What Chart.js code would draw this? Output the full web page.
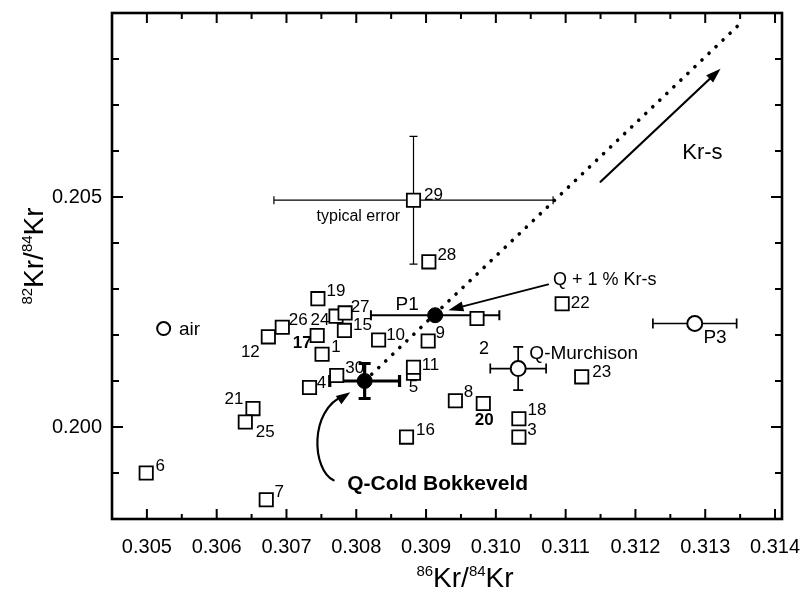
<!DOCTYPE html>
<html>
<head>
<meta charset="utf-8">
<script src="https://cdn.jsdelivr.net/npm/chart.js@4.4.0/dist/chart.umd.min.js"></script>
<style>
  html, body { margin: 0; padding: 0; background: #fff; }
  canvas { display: block; }
</style>
</head>
<body>
<canvas id="kr" width="804" height="595"></canvas>
<script>
// ---- Kr isotope data: 86Kr/84Kr (x) vs 82Kr/84Kr (y) ----
const sampleIds = ['1','3','4','5','6','7','8','9','10','11','12','15','16','17','18','19','20','21','22','23','24','25','26','27','28','29','30',''];
const sampleX = [0.30751,0.31033,0.30733,0.30882,0.30499,0.30671,0.30942,0.30903,0.30832,0.30882,0.30674,0.30783,0.30872,0.30744,0.31033,0.30745,0.30982,0.30652,0.31095,0.31123,0.30771,0.30641,0.30694,0.30784,0.30904,0.30882,0.30772,0.30973];
const sampleY = [0.20158,0.19978,0.20086,0.20117,0.19900,0.19842,0.20057,0.20187,0.20189,0.20130,0.20196,0.20210,0.19978,0.20199,0.20018,0.20279,0.20051,0.20040,0.20268,0.20109,0.20241,0.20011,0.20217,0.20248,0.20359,0.20493,0.20112,0.20236];
// typical uncertainty, shown on sample 29
const typicalSample = '29';
const typicalErrX = 0.0020;
const typicalErrY = 0.00139;

// open circles: air and reference gases
const refNames = ['air','Q-Murchison','P3'];
const refX = [0.30524,0.31032,0.31285];
const refY = [0.20214,0.20127,0.20225];
const refErrX = [0,0.0004,0.0006];
const refErrY = [0,0.00047,0];

// filled circles: Q-Cold Bokkeveld and P1
const qNames = ['Q-Cold Bokkeveld','P1'];
const qX = [0.30812,0.30913];
const qY = [0.20100,0.20243];
const qErrX = [0.0005,0.00092];
const qErrY = [0.00038,0];

// Kr-s mixing line from Q-Cold Bokkeveld
const mixLineX = [0.30812,0.31355];
const mixLineY = [0.20100,0.20884];

// axis ticks
const xTickValues = [0.305,0.306,0.307,0.308,0.309,0.310,0.311,0.312,0.313,0.314];
const xMinorValues = [0.3055,0.3065,0.3075,0.3085,0.3095,0.3105,0.3115,0.3125,0.3135];
const yTickValues = [0.200,0.205];
const yMinorValues = [0.199,0.201,0.202,0.203,0.204,0.206,0.207,0.208];

// text notes (data coordinates)
const noteTexts = ['typical error','Kr-s','Q + 1 % Kr-s','P1','Q-Murchison','P3','air','2','Q-Cold Bokkeveld'];
const noteX = [0.30803,0.31296,0.31082,0.30873,0.31048,0.31314,0.30561,0.30983,0.30787];
const noteY = [0.204565,0.20595,0.20319,0.20265,0.20160,0.20195,0.20212,0.20169,0.198754];

// arrows: straight [x0,y0,x1,y1]
const arrowKrs = [0.31150,0.20533,0.31322,0.20779];
const arrowQ1 = [0.31075,0.20310,0.30932,0.20254];
// curved arrow pointing at Q-Cold Bokkeveld: start, control 1, control 2, end
const curveX = [0.307675,0.30737,0.307312,0.307914];
const curveY = [0.198841,0.199059,0.200363,0.200754];

// ---- presentation ----
const FONT = '"Liberation Sans", Arial, Helvetica, sans-serif';
const noteStyle = [
  {size:16, align:'center'}, {size:22, align:'center'}, {size:18, align:'left'},
  {size:19, align:'center'}, {size:19, align:'left'}, {size:19, align:'center'},
  {size:19, align:'center'}, {size:18, align:'center'}, {size:21, align:'left', bold:true}
];
// label offsets (px) from each sample marker
const labelOffset = {
  '1':[14,-7],'3':[13,-7],'4':[12,-4],'5':[0,14],'6':[14,-7],'7':[13,-7],'8':[13,-8],'9':[12,-8],
  '10':[17,-5],'11':[17,-2],'12':[-18,15],'15':[18,-5],'16':[19,-7],'17':[-15,8],'18':[18,-8],
  '19':[18,-7],'20':[1,17],'21':[-19,-9],'22':[18,0],'23':[20,-5],'24':[-16,4],'25':[20,10],
  '26':[16,-7],'27':[15,-6],'28':[18,-7],'29':[20,-5],'30':[18,-7]
};
const boldLabels = ['17','20'];

function pts(xs, ys) { return xs.map((x, i) => ({x: x, y: ys[i]})); }

function arrowHead(ctx, x0, y0, x1, y1, len, half) {
  const a = Math.atan2(y1 - y0, x1 - x0);
  ctx.beginPath();
  ctx.moveTo(x1, y1);
  ctx.lineTo(x1 - len * Math.cos(a) + half * Math.sin(a), y1 - len * Math.sin(a) - half * Math.cos(a));
  ctx.lineTo(x1 - len * Math.cos(a) - half * Math.sin(a), y1 - len * Math.sin(a) + half * Math.cos(a));
  ctx.closePath();
  ctx.fill();
}

function errorBar(ctx, sx, sy, x, y, ex, ey, lw, cap) {
  ctx.lineWidth = lw;
  ctx.beginPath();
  if (ex > 0) {
    const a = sx.getPixelForValue(x - ex), b = sx.getPixelForValue(x + ex), p = sy.getPixelForValue(y);
    ctx.moveTo(a, p); ctx.lineTo(b, p);
    ctx.moveTo(a, p - cap); ctx.lineTo(a, p + cap);
    ctx.moveTo(b, p - cap); ctx.lineTo(b, p + cap);
  }
  if (ey > 0) {
    const a = sy.getPixelForValue(y - ey), b = sy.getPixelForValue(y + ey), p = sx.getPixelForValue(x);
    ctx.moveTo(p, a); ctx.lineTo(p, b);
    ctx.moveTo(p - cap, a); ctx.lineTo(p + cap, a);
    ctx.moveTo(p - cap, b); ctx.lineTo(p + cap, b);
  }
  ctx.stroke();
}

// superscript-aware label: parts = [[text, isSup], ...]
function richText(ctx, parts, cx, baseY, big, small, rise) {
  let w = 0;
  parts.forEach(p => { ctx.font = (p[1] ? small : big) + 'px ' + FONT; w += ctx.measureText(p[0]).width; });
  let x = cx - w / 2;
  ctx.textAlign = 'left';
  ctx.textBaseline = 'alphabetic';
  parts.forEach(p => {
    ctx.font = (p[1] ? small : big) + 'px ' + FONT;
    ctx.fillText(p[0], x, p[1] ? baseY - rise : baseY);
    x += ctx.measureText(p[0]).width;
  });
}

const decorations = {
  id: 'decorations',
  beforeDatasetsDraw(chart) {
    const {ctx, scales: {x: sx, y: sy}, chartArea: ca} = chart;
    ctx.save();
    ctx.beginPath();
    ctx.rect(ca.left, ca.top, ca.right - ca.left, ca.bottom - ca.top);
    ctx.clip();
    ctx.strokeStyle = '#000';
    ctx.fillStyle = '#000';
    // error bars
    const ti = sampleIds.indexOf(typicalSample);
    errorBar(ctx, sx, sy, sampleX[ti], sampleY[ti], typicalErrX, typicalErrY, 1.2, 4);
    refNames.forEach((n, i) => errorBar(ctx, sx, sy, refX[i], refY[i], refErrX[i], refErrY[i], 1.7, 5));
    errorBar(ctx, sx, sy, qX[0], qY[0], qErrX[0], qErrY[0], 3.2, 6);
    errorBar(ctx, sx, sy, qX[1], qY[1], qErrX[1], qErrY[1], 2, 5);

    // arrows
    ctx.lineCap = 'round';
    [arrowKrs, arrowQ1].forEach((a, k) => {
      const x0 = sx.getPixelForValue(a[0]), y0 = sy.getPixelForValue(a[1]);
      const x1 = sx.getPixelForValue(a[2]), y1 = sy.getPixelForValue(a[3]);
      ctx.lineWidth = k === 0 ? 2.2 : 1.8;
      const ang = Math.atan2(y1 - y0, x1 - x0);
      ctx.beginPath();
      ctx.moveTo(x0, y0);
      ctx.lineTo(x1 - 10 * Math.cos(ang), y1 - 10 * Math.sin(ang));
      ctx.stroke();
      arrowHead(ctx, x0, y0, x1, y1, 15, 5);
    });
    const cx = curveX.map(v => sx.getPixelForValue(v));
    const cy = curveY.map(v => sy.getPixelForValue(v));
    ctx.lineWidth = 2.2;
    ctx.beginPath();
    ctx.moveTo(cx[0], cy[0]);
    ctx.bezierCurveTo(cx[1], cy[1], cx[2], cy[2], cx[3] - 6, cy[3] + 3);
    ctx.stroke();
    arrowHead(ctx, cx[2], cy[2] + 10, cx[3], cy[3], 14, 5);
    ctx.restore();
  },
  afterDatasetsDraw(chart) {
    const {ctx, scales: {x: sx, y: sy}} = chart;
    ctx.save();
    ctx.fillStyle = '#000';
    ctx.textBaseline = 'middle';
    ctx.textAlign = 'center';
    // sample numbers
    sampleIds.forEach((id, i) => {
      if (!id) return;
      const off = labelOffset[id] || [16, -6];
      ctx.font = (boldLabels.includes(id) ? 'bold ' : '') + '17px ' + FONT;
      ctx.fillText(id, sx.getPixelForValue(sampleX[i]) + off[0], sy.getPixelForValue(sampleY[i]) + off[1]);
    });
    // notes
    noteTexts.forEach((t, i) => {
      const st = noteStyle[i];
      ctx.font = (st.bold ? 'bold ' : '') + st.size + 'px ' + FONT;
      ctx.textAlign = st.align;
      ctx.fillText(t, sx.getPixelForValue(noteX[i]), sy.getPixelForValue(noteY[i]));
    });
    ctx.restore();
  },
  afterDraw(chart) {
    const {ctx, scales: {x: sx, y: sy}, chartArea: ca} = chart;
    ctx.save();
    ctx.strokeStyle = '#000';
    ctx.fillStyle = '#000';
    // inward tick marks on all four sides
    ctx.lineWidth = 2;
    ctx.beginPath();
    xTickValues.forEach(v => {
      const p = sx.getPixelForValue(v);
      ctx.moveTo(p, ca.bottom); ctx.lineTo(p, ca.bottom - 10);
      ctx.moveTo(p, ca.top); ctx.lineTo(p, ca.top + 10);
    });
    xMinorValues.forEach(v => {
      const p = sx.getPixelForValue(v);
      ctx.moveTo(p, ca.bottom); ctx.lineTo(p, ca.bottom - 5);
      ctx.moveTo(p, ca.top); ctx.lineTo(p, ca.top + 6);
    });
    yTickValues.forEach(v => {
      const p = sy.getPixelForValue(v);
      ctx.moveTo(ca.left, p); ctx.lineTo(ca.left + 11, p);
      ctx.moveTo(ca.right, p); ctx.lineTo(ca.right - 11, p);
    });
    yMinorValues.forEach(v => {
      const p = sy.getPixelForValue(v);
      ctx.moveTo(ca.left, p); ctx.lineTo(ca.left + 7, p);
      ctx.moveTo(ca.right, p); ctx.lineTo(ca.right - 7, p);
    });
    ctx.stroke();
    // frame
    ctx.lineWidth = 2.6;
    ctx.strokeRect(ca.left, ca.top, ca.right - ca.left, ca.bottom - ca.top);

    // axis titles
    const xc = (ca.left + ca.right) / 2 + 18;
    richText(ctx, [['86', true], ['Kr/', false], ['84', true], ['Kr', false]], xc, ca.bottom + 68, 28, 15, 11);
    ctx.translate(ca.left - 69, (ca.top + ca.bottom) / 2 - 10);
    ctx.rotate(-Math.PI / 2);
    richText(ctx, [['82', true], ['Kr/', false], ['84', true], ['Kr', false]], 0, 0, 28, 15, 11);
    ctx.restore();
  }
};

const chart = new Chart(document.getElementById('kr'), {
  type: 'scatter',
  data: {
    datasets: [
      {
        label: 'Q-Cold Bokkeveld, P1',
        data: pts(qX, qY),
        pointStyle: 'circle',
        pointRadius: 7.5,
        backgroundColor: '#000',
        borderColor: '#000',
        borderWidth: 1,
        order: 1
      },
      {
        label: 'air, Q-Murchison, P3',
        data: pts(refX, refY),
        pointStyle: 'circle',
        pointRadius: [6.5, 7.5, 7.5],
        backgroundColor: '#fff',
        borderColor: '#000',
        borderWidth: 2,
        order: 2
      },
      {
        label: 'samples',
        data: pts(sampleX, sampleY),
        pointStyle: 'rect',
        pointRadius: 9.4,
        backgroundColor: '#fff',
        borderColor: '#000',
        borderWidth: 1.8,
        order: 3
      },
      {
        label: 'Kr-s mixing',
        type: 'line',
        data: pts(mixLineX, mixLineY),
        showLine: true,
        fill: false,
        borderColor: '#000',
        borderWidth: 3.6,
        borderDash: [0.1, 9.6],
        borderCapStyle: 'round',
        pointRadius: 0,
        order: 4
      }
    ]
  },
  options: {
    responsive: false,
    animation: false,
    events: [],
    layout: { padding: { top: 13, right: 22, left: 0, bottom: 0 } },
    plugins: { legend: { display: false }, tooltip: { enabled: false } },
    scales: {
      x: {
        type: 'linear',
        min: 0.3045,
        max: 0.3141,
        afterBuildTicks: s => { s.ticks = xTickValues.map(v => ({value: v})); },
        afterFit: s => { s.height = 76; s.paddingLeft = 0; s.paddingRight = 0; },
        grid: { display: false, drawTicks: false },
        border: { display: false },
        ticks: {
          padding: 16,
          color: '#000',
          font: { family: FONT, size: 20 },
          callback: v => v.toFixed(3)
        }
      },
      y: {
        type: 'linear',
        min: 0.198,
        max: 0.209,
        afterBuildTicks: s => { s.ticks = yTickValues.map(v => ({value: v})); },
        afterFit: s => { s.width = 112; s.paddingTop = 0; s.paddingBottom = 0; },
        grid: { display: false, drawTicks: false },
        border: { display: false },
        ticks: {
          padding: 10,
          color: '#000',
          font: { family: FONT, size: 20 },
          callback: v => v.toFixed(3)
        }
      }
    }
  },
  plugins: [decorations]
});
</script>
</body>
</html>
